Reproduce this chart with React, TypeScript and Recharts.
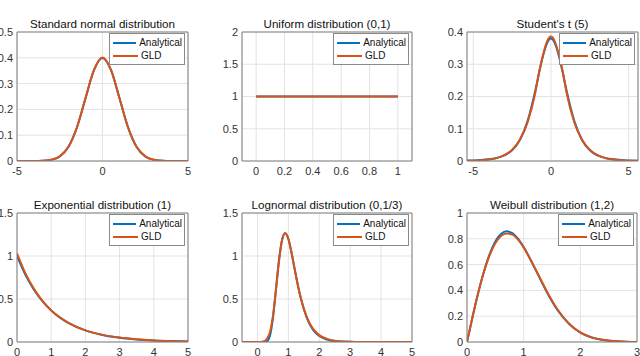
import React from 'react';
import { LineChart, Line, XAxis, YAxis, CartesianGrid, Legend, ReferenceLine } from 'recharts';

const BLUE = '#0072BD';
const ORANGE = '#D95319';
const AX = '#808080';
const FONT = '"Liberation Sans", Arial, Helvetica, sans-serif';

// Standard normal distribution
const normalX = [-5, -4, -3.5, -3, -2.5, -2, -1.5, -1, -0.5, 0, 0.5, 1, 1.5, 2, 2.5, 3, 3.5, 4, 5];
const normalAnalytical = [0, 0.0001, 0.0009, 0.0044, 0.0175, 0.054, 0.1295, 0.242, 0.352, 0.399, 0.352, 0.242, 0.1295, 0.054, 0.0175, 0.0044, 0.0009, 0.0001, 0];
const normalGLD = [0, 0, 0.001, 0.005, 0.018, 0.054, 0.129, 0.241, 0.352, 0.401, 0.352, 0.241, 0.129, 0.054, 0.018, 0.005, 0.001, 0, 0];

// Uniform distribution (0,1)
const uniformX = [0, 0.5, 1];
const uniformAnalytical = [1, 1, 1];
const uniformGLD = [1, 1, 1];

// Student's t (5)
const tX = [-5.4, -5, -4.5, -4, -3.5, -3, -2.5, -2, -1.5, -1, -0.75, -0.5, -0.25, 0, 0.25, 0.5, 0.75, 1, 1.5, 2, 2.5, 3, 3.5, 4, 4.5, 5, 5.6];
const tAnalytical = [0.0013, 0.0018, 0.0029, 0.0051, 0.0094, 0.0173, 0.0329, 0.0651, 0.1245, 0.2197, 0.2757, 0.3279, 0.3657, 0.3796, 0.3657, 0.3279, 0.2757, 0.2197, 0.1245, 0.0651, 0.0329, 0.0173, 0.0094, 0.0051, 0.0029, 0.0018, 0.0011];
const tGLD = [0.0005, 0.001, 0.002, 0.0045, 0.009, 0.018, 0.035, 0.066, 0.12, 0.213, 0.279, 0.331, 0.371, 0.386, 0.371, 0.331, 0.279, 0.213, 0.12, 0.066, 0.035, 0.018, 0.009, 0.0045, 0.002, 0.001, 0.0004];

// Exponential distribution (1)
const expX = [0, 0.25, 0.5, 0.75, 1, 1.25, 1.5, 2, 2.5, 3, 3.5, 4, 4.5, 5];
const expAnalytical = [1, 0.7788, 0.6065, 0.4724, 0.3679, 0.2865, 0.2231, 0.1353, 0.0821, 0.0498, 0.0302, 0.0183, 0.0111, 0.0067];
const expGLD = [1.03, 0.795, 0.615, 0.475, 0.367, 0.285, 0.222, 0.135, 0.083, 0.051, 0.031, 0.018, 0.01, 0.005];

// Lognormal distribution (0,1/3)
const lognX = [-0.5, 0, 0.1, 0.2, 0.3, 0.4, 0.5, 0.6, 0.7, 0.8, 0.9, 1.0, 1.1, 1.2, 1.3, 1.4, 1.6, 1.8, 2.0, 2.25, 2.5, 3, 3.5, 4, 5];
const lognAnalytical = [0, 0, 0, 0, 0.006, 0.068, 0.276, 0.617, 0.965, 1.196, 1.265, 1.197, 1.045, 0.859, 0.675, 0.514, 0.277, 0.14, 0.069, 0.029, 0.011, 0.0018, 0.0003, 0, 0];
const lognGLD = [0, 0, 0.001, 0.008, 0.035, 0.11, 0.3, 0.61, 0.95, 1.19, 1.268, 1.2, 1.04, 0.85, 0.67, 0.515, 0.285, 0.152, 0.08, 0.036, 0.016, 0.003, 0.0005, 0, 0];

// Weibull distribution (1,2)
const weibX = [0, 0.1, 0.2, 0.3, 0.4, 0.5, 0.6, 0.7, 0.8, 0.9, 1.0, 1.2, 1.4, 1.6, 1.8, 2.0, 2.2, 2.4, 2.6, 2.8, 3];
const weibAnalytical = [0, 0.198, 0.384, 0.548, 0.682, 0.779, 0.837, 0.858, 0.844, 0.801, 0.736, 0.569, 0.394, 0.247, 0.141, 0.0733, 0.0348, 0.0151, 0.006, 0.0022, 0.0007];
const weibGLD = [0, 0.2, 0.385, 0.545, 0.673, 0.765, 0.822, 0.842, 0.832, 0.793, 0.732, 0.572, 0.4, 0.25, 0.142, 0.074, 0.036, 0.017, 0.007, 0.002, 0];

const toRows = (xs: number[], ys: number[]) => xs.map((x, i) => ({ x, y: ys[i] }));

const YW = 40;
const XH = 24;
const TM = 4;
const RM = 4;

const LegendBox = (props: any) => {
  const payload = props.payload || [];
  return (
    <div
      style={{
        border: '1px solid #8a8a8a',
        background: '#fff',
        padding: '2px 2px 2px 3px',
        boxSizing: 'border-box',
        width: 76,
        fontFamily: FONT,
      }}
    >
      {payload.map((p: any) => (
        <div key={p.value} style={{ display: 'flex', alignItems: 'center', height: 13, fontSize: 10, lineHeight: '13px', whiteSpace: 'nowrap' }}>
          <svg width={25} height={4} style={{ display: 'block' }}>
            <line x1={0} y1={2} x2={25} y2={2} stroke={p.color} strokeWidth={2} />
          </svg>
          <span style={{ marginLeft: 3, color: '#111' }}>{p.value}</span>
        </div>
      ))}
    </div>
  );
};

type PanelProps = {
  left: number;
  top: number;
  w: number;
  h: number;
  title: string;
  xDomain: [number, number];
  xTicks: number[];
  yDomain: [number, number];
  yTicks: number[];
  analytical: { x: number; y: number }[];
  gld: { x: number; y: number }[];
};

function Panel(p: PanelProps) {
  return (
    <>
      <div
        style={{
          position: 'absolute',
          left: p.left - 20,
          top: p.top - 15,
          width: p.w + 40,
          height: 14,
          lineHeight: '14px',
          textAlign: 'center',
          fontSize: 11.6,
          color: '#111',
          whiteSpace: 'nowrap',
        }}
      >
        {p.title}
      </div>
      <div style={{ position: 'absolute', left: p.left - YW, top: p.top - TM }}>
        <LineChart width={YW + p.w + RM} height={TM + p.h + XH} margin={{ top: TM, right: RM, bottom: 0, left: 0 }}>
          <CartesianGrid stroke="#e3e3e3" />
          <XAxis
            type="number"
            dataKey="x"
            domain={p.xDomain}
            ticks={p.xTicks}
            interval={0}
            allowDataOverflow
            height={XH}
            tickSize={2}
            tickMargin={4}
            tickLine={false}
            axisLine={{ stroke: AX }}
            tick={{ fill: '#333', fontSize: 11 }}
          />
          <YAxis
            type="number"
            domain={p.yDomain}
            ticks={p.yTicks}
            interval={0}
            allowDataOverflow
            width={YW}
            tickSize={2}
            tickMargin={2}
            tickLine={false}
            axisLine={{ stroke: AX }}
            tick={{ fill: '#333', fontSize: 11 }}
          />
          <ReferenceLine y={p.yDomain[1]} stroke={AX} />
          <ReferenceLine x={p.xDomain[1]} stroke={AX} />
          <Line data={p.analytical} dataKey="y" name="Analytical" stroke={BLUE} strokeWidth={2} dot={false} activeDot={false} type="monotone" isAnimationActive={false} />
          <Line data={p.gld} dataKey="y" name="GLD" stroke={ORANGE} strokeWidth={2} dot={false} activeDot={false} type="monotone" isAnimationActive={false} />
          <Legend layout="vertical" align="center" verticalAlign="middle" wrapperStyle={{ top: TM + 1, right: RM + 3, width: 76 }} content={<LegendBox />} />
        </LineChart>
      </div>
    </>
  );
}

export default function App() {
  return (
    <div
      style={{
        position: 'absolute',
        left: 0,
        top: 0,
        width: 640,
        height: 356,
        overflow: 'hidden',
        background: '#fff',
        fontFamily: FONT,
      }}
    >
      <Panel left={17} top={32} w={171} h={129} title="Standard normal distribution"
        xDomain={[-5, 5]} xTicks={[-5, 0, 5]} yDomain={[0, 0.5]} yTicks={[0, 0.1, 0.2, 0.3, 0.4, 0.5]}
        analytical={toRows(normalX, normalAnalytical)} gld={toRows(normalX, normalGLD)} />
      <Panel left={242} top={32} w={170} h={129} title="Uniform distribution (0,1)"
        xDomain={[-0.1, 1.1]} xTicks={[0, 0.2, 0.4, 0.6, 0.8, 1]} yDomain={[0, 2]} yTicks={[0, 0.5, 1, 1.5, 2]}
        analytical={toRows(uniformX, uniformAnalytical)} gld={toRows(uniformX, uniformGLD)} />
      <Panel left={467} top={32} w={171} h={129} title="Student's t (5)"
        xDomain={[-5.4, 5.6]} xTicks={[-5, 0, 5]} yDomain={[0, 0.4]} yTicks={[0, 0.1, 0.2, 0.3, 0.4]}
        analytical={toRows(tX, tAnalytical)} gld={toRows(tX, tGLD)} />
      <Panel left={17} top={213} w={171} h={129} title="Exponential distribution (1)"
        xDomain={[0, 5]} xTicks={[0, 1, 2, 3, 4, 5]} yDomain={[0, 1.5]} yTicks={[0, 0.5, 1, 1.5]}
        analytical={toRows(expX, expAnalytical)} gld={toRows(expX, expGLD)} />
      <Panel left={242} top={213} w={170} h={129} title="Lognormal distribution (0,1/3)"
        xDomain={[-0.5, 5]} xTicks={[0, 1, 2, 3, 4, 5]} yDomain={[0, 1.5]} yTicks={[0, 0.5, 1, 1.5]}
        analytical={toRows(lognX, lognAnalytical)} gld={toRows(lognX, lognGLD)} />
      <Panel left={467} top={213} w={170} h={129} title="Weibull distribution (1,2)"
        xDomain={[0, 3]} xTicks={[0, 1, 2, 3]} yDomain={[0, 1]} yTicks={[0, 0.2, 0.4, 0.6, 0.8, 1]}
        analytical={toRows(weibX, weibAnalytical)} gld={toRows(weibX, weibGLD)} />
    </div>
  );
}
